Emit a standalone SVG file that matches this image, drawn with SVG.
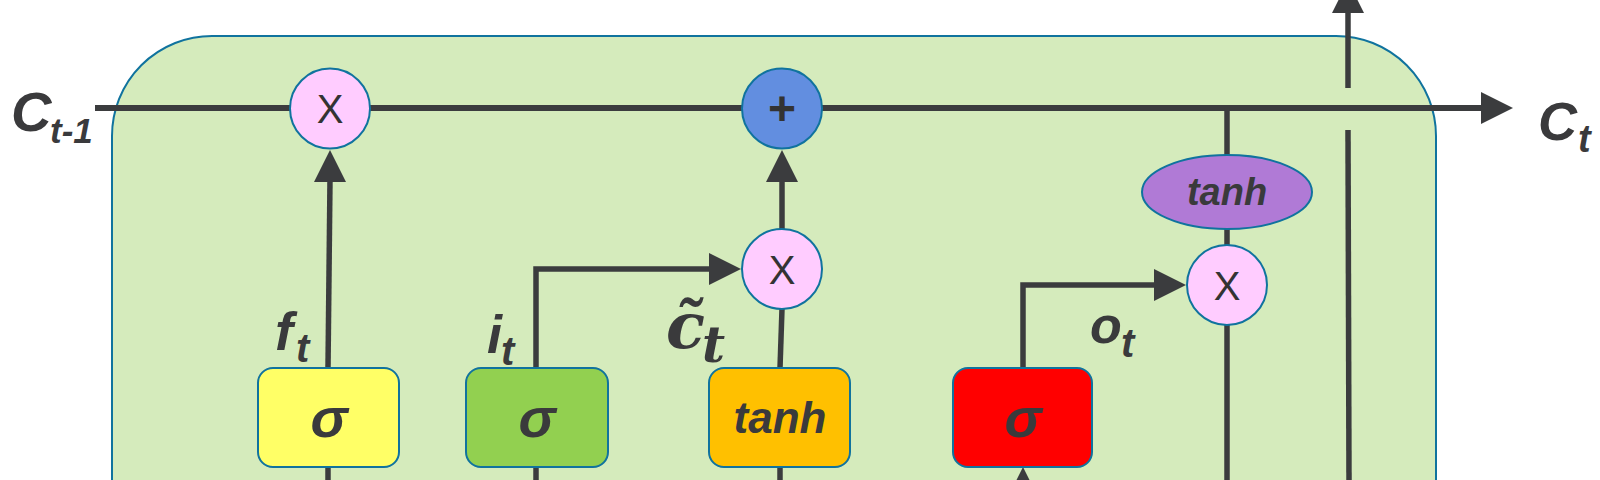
<svg xmlns="http://www.w3.org/2000/svg" width="1600" height="480" viewBox="0 0 1600 480">
<style>
.ln{stroke:#3b3c3e;stroke-width:5.5;fill:none;stroke-linecap:butt}
.cell{stroke:#3b3c3e;stroke-width:6;fill:none}
.ah{fill:#3b3c3e}
.mul{fill:#ffccff;stroke:#10739e;stroke-width:2}
.box{stroke:#10739e;stroke-width:2}
.lbl{font-family:"Liberation Sans",Arial,sans-serif;font-weight:bold;font-style:italic;fill:#3a3a3c}
.op{font-family:"Liberation Sans",Arial,sans-serif;fill:#333333;text-anchor:middle}
.gate{font-family:"Liberation Sans",Arial,sans-serif;font-weight:bold;font-style:italic;fill:#3a3a3c;text-anchor:middle}
</style>
<rect id="cell-body" x="112" y="36" width="1324" height="620" rx="100" ry="100" fill="#d5ebbc" stroke="#10739e" stroke-width="2"/>
<g id="connectors">
  <line class="cell" x1="95" y1="108" x2="1484" y2="108"/>
  <polygon class="ah" points="1481,92 1513,108 1481,124"/>
  <line class="ln" x1="328" y1="480" x2="328" y2="467"/>
  <line class="ln" x1="328" y1="368" x2="330" y2="180"/>
  <polygon class="ah" points="314,182 346,182 330,150"/>
  <line class="ln" x1="536" y1="480" x2="536" y2="467"/>
  <polyline class="ln" points="536,368 536,269 712,269"/>
  <polygon class="ah" points="709,253 741,269 709,285"/>
  <line class="ln" x1="780" y1="480" x2="780" y2="467"/>
  <line class="ln" x1="780" y1="368" x2="782" y2="309"/>
  <line class="ln" x1="782" y1="229" x2="782" y2="180"/>
  <polygon class="ah" points="766,182 798,182 782,150"/>
  <line class="ln" x1="1023" y1="480" x2="1023" y2="495"/>
  <polygon class="ah" points="1007,499 1039,499 1023,467"/>
  <polyline class="ln" points="1023,368 1023,285 1157,285"/>
  <polygon class="ah" points="1154,269 1186,285 1154,301"/>
  <line class="ln" x1="1227" y1="108" x2="1227" y2="156"/>
  <line class="ln" x1="1227" y1="228" x2="1227" y2="245"/>
  <line class="ln" x1="1227" y1="325" x2="1227" y2="480"/>
  <line class="ln" x1="1349" y1="480" x2="1348" y2="130"/>
  <line class="ln" x1="1348" y1="88" x2="1348" y2="10"/>
  <polygon class="ah" points="1332,13 1364,13 1348,-19"/>
</g>
<g id="forget-mul"><circle class="mul" cx="330" cy="108.5" r="40"/><text class="op" x="330" y="123" font-size="40">X</text></g>
<g id="cell-add"><circle cx="782" cy="108.5" r="40" fill="#628ee0" stroke="#10739e" stroke-width="2"/><text class="op" x="782" y="125" font-size="48" font-weight="bold">+</text></g>
<g id="input-mul"><circle class="mul" cx="782" cy="269" r="40"/><text class="op" x="782" y="283.5" font-size="40">X</text></g>
<g id="output-mul"><circle class="mul" cx="1227" cy="285" r="40"/><text class="op" x="1227" y="299.5" font-size="40">X</text></g>
<g id="cell-tanh"><ellipse cx="1227" cy="192" rx="85" ry="37" fill="#b07ad6" stroke="#10739e" stroke-width="2"/><text class="gate" x="1227" y="205" font-size="38">tanh</text></g>
<g id="forget-gate"><rect class="box" x="258" y="368" width="141" height="99" rx="15" fill="#ffff66"/><text class="gate" x="329" y="437" font-size="56">σ</text></g>
<g id="input-gate"><rect class="box" x="466" y="368" width="142" height="99" rx="15" fill="#92d050"/><text class="gate" x="537" y="437" font-size="56">σ</text></g>
<g id="candidate-gate"><rect class="box" x="709" y="368" width="141" height="99" rx="15" fill="#ffc000"/><text class="gate" x="780" y="433" font-size="44">tanh</text></g>
<g id="output-gate"><rect class="box" x="953" y="368" width="139" height="99" rx="15" fill="#ff0000"/><text class="gate" x="1023" y="437" font-size="56">σ</text></g>
<g id="labels">
  <text class="lbl" x="11" y="131" font-size="56">C<tspan font-size="35" x="50" y="143">t-1</tspan></text>
  <text class="lbl" x="1538" y="140" font-size="54">C<tspan font-size="38" x="1578" y="152">t</tspan></text>
  <text class="lbl" x="275" y="350" font-size="54">f<tspan font-size="40" x="296" y="362">t</tspan></text>
  <text class="lbl" x="487" y="353" font-size="54">i<tspan font-size="40" x="501" y="365">t</tspan></text>
  <text x="666" y="348" font-family="DejaVu Serif,serif" font-weight="bold" font-style="italic" font-size="64" fill="#3a3a3c">c̃<tspan font-size="50" x="702" y="362">t</tspan></text>
  <text class="lbl" x="1090" y="343" font-size="52">o<tspan font-size="40" x="1121" y="357">t</tspan></text>
</g>
</svg>
